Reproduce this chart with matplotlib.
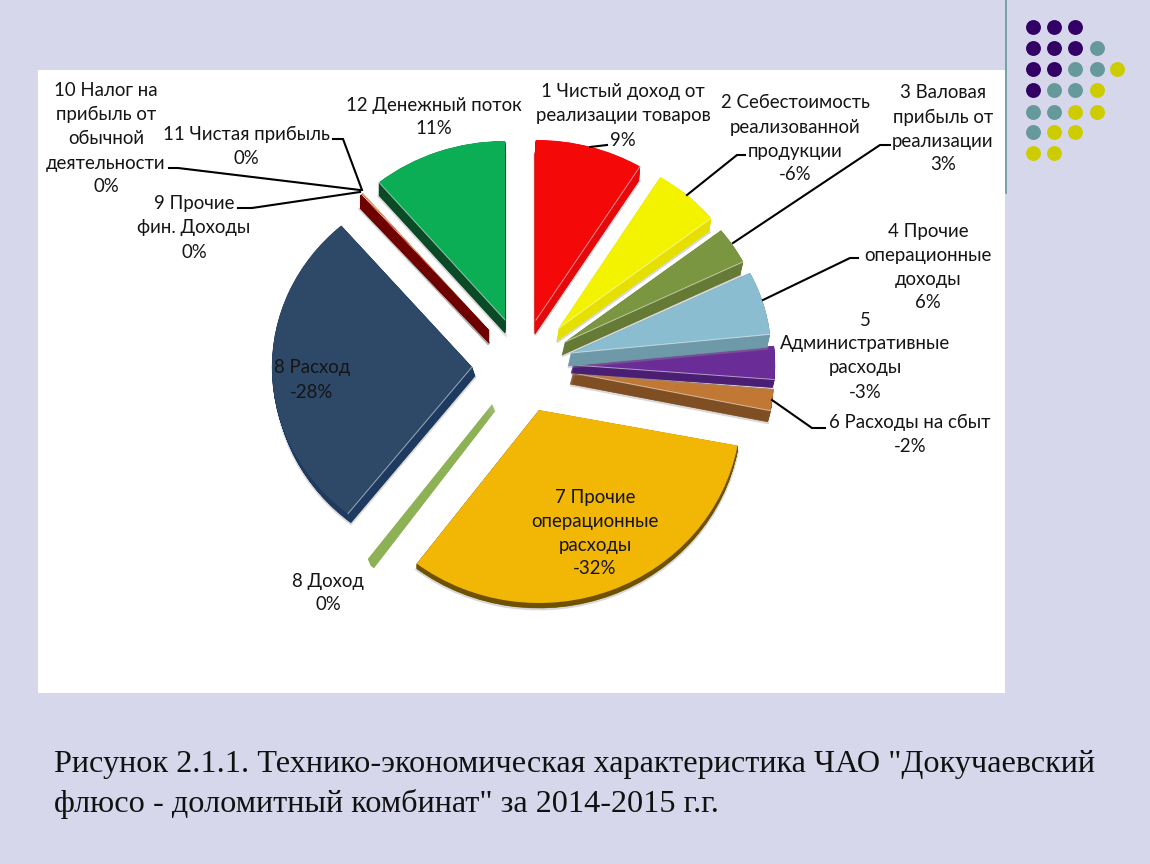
import numpy as np
import matplotlib
matplotlib.use("Agg")
import matplotlib.pyplot as plt
from matplotlib.patches import Wedge, Rectangle
from matplotlib.transforms import Affine2D

# ---- data -------------------------------------------------------------
slice_names = ["1 Чистый доход от реализации товаров",
               "2 Себестоимость реализованной продукции",
               "3 Валовая прибыль от реализации",
               "4 Прочие операционные доходы",
               "5 Административные расходы",
               "6 Расходы на сбыт",
               "7 Прочие операционные расходы",
               "8 Доход", "8 Расход",
               "9 Прочие фин. Доходы",
               "10 Налог на прибыль от обычной деятельности",
               "11 Чистая прибыль",
               "12 Денежный поток"]
slice_values = [8.75, 5.6, 3.3, 5.7, 2.9, 1.7, 32.4, 0.3, 28.0, 0.1, 0.1, 0.1, 11.05]

# ---- style ------------------------------------------------------------
top_colors = ["#F40808", "#F3F300", "#7B9641", "#8BBDD0", "#6A2D98", "#C27835",
              "#F2B705", "#8DB255", "#2E4868", "#7A0000", "#F6C28B", "#F6C28B", "#0BAE55"]
side_colors = ["#E6090B", "#E6E000", "#647A35", "#6E99A8", "#4A1E72", "#7F4E22",
               "#6E5200", "#8DB255", "#1F3A60", "#6E0000", "#6E0000", "#6E0000", "#0B4A27"]
tip_x = [536, 559, 565, 571, 573, 573, 539, 492, 472, 489, 489, 489, 505]
tip_y = [320, 328, 342, 353, 365, 373, 410, 404, 367, 330, 330, 330, 320]
rad_x = [199, 194, 199, 200, 202, 201, 202, 200, 200, 197, 197, 197, 197]
rad_y = [180, 177, 180, 180, 185, 205, 193, 197, 187, 178, 178, 178, 179]
ext_x = [-1, -2, -3, -3, -2, -3, 0, 3, 3, 0, 0, 0, 0]
ext_y = [14, 13, 13, 13, 8, 11, 5, 7, 9, 13, 13, 13, 13]

labels = [
    (623, [92, 116, 141], ["1 Чистый доход от", "реализации товаров", "9%"]),
    (795, [103, 127, 151, 175], ["2 Себестоимость", "реализованной", "продукции", "-6%"]),
    (943, [93, 117, 141, 165], ["3 Валовая", "прибыль от", "реализации", "3%"]),
    (928, [231, 255, 279, 303], ["4 Прочие", "операционные", "доходы", "6%"]),
    (865, [320, 344, 368, 392], ["5", "Административные", "расходы", "-3%"]),
    (910, [422, 447], ["6 Расходы на сбыт", "-2%"]),
    (595, [497, 521, 545, 569], ["7 Прочие", "операционные", "расходы", "-32%"]),
    (312, [368, 392], ["8 Расход", "-28%"]),
    (328, [581, 605], ["8 Доход", "0%"]),
    (194, [204, 228, 252], ["9 Прочие", "фин. Доходы", "0%"]),
    (106, [90, 114, 138, 163, 187], ["10 Налог на", "прибыль от", "обычной", "деятельности", "0%"]),
    (246, [134, 158], ["11 Чистая прибыль", "0%"]),
    (434, [105, 129], ["12 Денежный поток", "11%"]),
]
leaders = [
    [(590, 147), (607, 145)],
    [(687, 195), (737, 155), (745, 155)],
    [(733, 243), (880, 145), (890, 145)],
    [(763, 300), (850, 258), (858, 258)],
    [(772, 400), (812, 428), (825, 428)],
    [(238, 208), (252, 208), (360, 192)],
    [(169, 168), (178, 168), (360, 190)],
    [(333, 139), (343, 139), (362, 190)],
]

caption = ["Рисунок 2.1.1. Технико-экономическая характеристика ЧАО \"Докучаевский",
           "флюсо - доломитный комбинат\" за 2014-2015 г.г."]

dot_rows = ["PPP", "PPPT", "PPTTY", "PTTY", "TTYY", "TYY", "YY"]
dot_colors = {"P": "#330066", "T": "#669999", "Y": "#CCCC00"}
dot_x = [1033, 1054, 1075, 1097, 1117]
dot_y = [27, 48, 69, 90, 112, 132, 153]

BG = "#D6D7EB"
FONT = ["Lato", "Noto Sans", "DejaVu Sans"]

# ---- canvas -----------------------------------------------------------
fig = plt.figure(figsize=(11.5, 8.64), dpi=100, facecolor=BG)
ax = fig.add_axes([0, 0, 1, 1])
ax.set_xlim(0, 1150)
ax.set_ylim(864, 0)
ax.axis("off")

ax.add_patch(Rectangle((38, 70), 967, 623, fc="white", ec="none", zorder=0))
ax.plot([1006, 1006], [0, 193], color="#669999", lw=1.2, zorder=1)

for r, row in enumerate(dot_rows):
    for c, key in enumerate(row):
        ax.scatter(dot_x[c], dot_y[r], s=115, color=dot_colors[key], lw=0, zorder=2)

# ---- pie --------------------------------------------------------------
vals = np.asarray(slice_values, float)
edges = np.concatenate([[0], np.cumsum(vals)]) / vals.sum() * 360.0


def wedge_at(i, dx=0.0, dy=0.0, **kw):
    tr = Affine2D().scale(rad_x[i], rad_y[i]).translate(tip_x[i] + dx, tip_y[i] + dy)
    return Wedge((0, 0), 1, edges[i] - 90, edges[i + 1] - 90,
                 transform=tr + ax.transData, **kw)


z = 5
for i in reversed(range(len(vals))):
    # soft shadow
    if slice_names[i] != "8 Доход":
        ax.add_patch(wedge_at(i, ext_x[i], ext_y[i] + 1, fc="none", ec="#909090",
                              lw=2.0, alpha=0.35, zorder=z))
    z += 1
    # extruded side
    steps = max(int(max(abs(ext_x[i]), abs(ext_y[i])) * 2), 1)
    for f in np.linspace(1, 0, steps, endpoint=False):
        ax.add_patch(wedge_at(i, ext_x[i] * f, ext_y[i] * f, fc=side_colors[i],
                              ec=side_colors[i], lw=0.4, zorder=z))
    z += 1
    # top face
    if slice_names[i] != "8 Доход":
        ax.add_patch(wedge_at(i, fc=top_colors[i], ec="none", lw=0, zorder=z))
    z += 1
    # highlight on the edge above a visible side
    for a, visible in ((edges[i + 1], edges[i + 1] < 180), (edges[i], edges[i] > 180)):
        if visible and vals[i] > 1:
            t = np.radians(a)
            ax.plot([tip_x[i], tip_x[i] + rad_x[i] * np.sin(t)],
                    [tip_y[i], tip_y[i] - rad_y[i] * np.cos(t)],
                    color="white", lw=0.7, alpha=0.55, zorder=z)
    z += 1

# ---- leaders ----------------------------------------------------------
for pts in leaders:
    xs, ys = zip(*pts)
    ax.plot(xs, ys, color="black", lw=1.5, zorder=200, solid_joinstyle="miter")

# ---- labels -----------------------------------------------------------
for cx, ys, lines in labels:
    for y, s in zip(ys, lines):
        ax.text(cx, y, s, ha="center", va="center", fontsize=13.45, family=FONT,
                color="#151515", zorder=210)

for y, s in zip([772, 812], caption):
    ax.text(54, y, s, ha="left", va="baseline", fontsize=23.2,
            family="Liberation Serif", color="#111111", zorder=210)

fig.savefig("out.png", dpi=100, facecolor=BG)
